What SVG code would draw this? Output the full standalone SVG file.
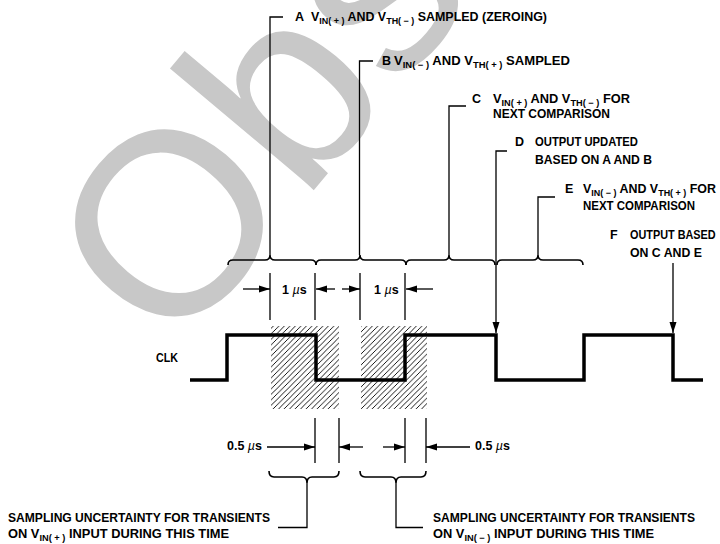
<svg xmlns="http://www.w3.org/2000/svg" width="720" height="544" viewBox="0 0 720 544">
<defs>
<style>
.t{font-family:"Liberation Sans",Arial,sans-serif;font-weight:bold;font-size:12.5px;fill:#000}
.sub{font-size:9px}
.mu{font-style:italic;font-weight:normal}
.ln{fill:none;stroke:#000;stroke-width:1.3}
.br{fill:none;stroke:#000;stroke-width:1.6}
.clk{fill:none;stroke:#000;stroke-width:3.5;stroke-linejoin:miter}
.wm{font-family:"Liberation Sans",Arial,sans-serif;font-size:260px;fill:#c8c8c8}
</style>
<marker id="ah" markerUnits="userSpaceOnUse" markerWidth="12" markerHeight="8" refX="11" refY="4" orient="auto">
<path d="M0,0.5 L11,4 L0,7.5 z" fill="#000"/>
</marker>
<pattern id="hatch" patternUnits="userSpaceOnUse" width="5.5" height="5.5">
<path d="M0,5.5 L5.5,0 M-1,1 L1,-1 M4.5,6.5 L6.5,4.5" stroke="#000" stroke-width="0.9"/>
</pattern>
</defs>
<rect width="720" height="544" fill="#fff"/>
<text class="wm" x="173" y="358" transform="rotate(-50 173 358)">Obs</text>

<g id="hatch-areas">
<rect x="271" y="326" width="68" height="83" fill="url(#hatch)"/>
<rect x="361" y="326" width="66" height="83" fill="url(#hatch)"/>
</g>

<g id="connectors">
<path class="ln" d="M283,17 H270 V255"/>
<path class="ln" d="M373,61 H359.5 V255"/>
<path class="ln" d="M466,106 H449 V255"/>
<path class="ln" d="M507,151 H496 V333" marker-end="url(#ah)"/>
<path class="ln" d="M555,197 H538 V255"/>
<path class="ln" d="M673,263 V333" marker-end="url(#ah)"/>
<path class="br" d="M228,265 Q228,260 233,260 L265,260 Q270,260 270,255 Q270,260 275,260 L311,260 Q316,260 316,265"/>
<path class="br" d="M316,265 Q316,260 321,260 L355,260 Q360,260 360,255 Q360,260 365,260 L401,260 Q406,260 406,265"/>
<path class="br" d="M406,265 Q406,260 411,260 L444,260 Q449,260 449,255 Q449,260 454,260 L490,260 Q495,260 495,265"/>
<path class="br" d="M497,265 Q497,260 502,260 L533,260 Q538,260 538,255 Q538,260 543,260 L578,260 Q583,260 583,265"/>
<path class="ln" d="M270,273 V320 M315,273 V320 M360,273 V320 M405,273 V320"/>
<path class="ln" d="M243,289 H270" marker-end="url(#ah)"/>
<path class="ln" d="M335,289 H316" marker-end="url(#ah)"/>
<path class="ln" d="M342,289 H360" marker-end="url(#ah)"/>
<path class="ln" d="M433,289 H406" marker-end="url(#ah)"/>
<path class="ln" d="M315,418 V463 M339,418 V463 M405,418 V463 M426,418 V463"/>
<path class="ln" d="M267,447 H315" marker-end="url(#ah)"/>
<path class="ln" d="M363,447 H339" marker-end="url(#ah)"/>
<path class="ln" d="M383,447 H405" marker-end="url(#ah)"/>
<path class="ln" d="M470,447 H426" marker-end="url(#ah)"/>
<path class="br" d="M269,471 Q269,477 274,477 L302,477 Q307,477 307,483 Q307,477 312,477 L334,477 Q339,477 339,471"/>
<path class="br" d="M360,471 Q360,477 365,477 L391,477 Q396,477 396,483 Q396,477 401,477 L421,477 Q426,477 426,471"/>
<path class="ln" d="M307,483 V527.5 H278"/>
<path class="ln" d="M396,483 V527.5 H423"/>
</g>

<g id="clk">
<path class="clk" d="M190,380 H227 V335 H316 V380 H405 V335 H496 V380 H584 V335 H673 V380 H703"/>
<text class="t" x="156" y="362" textLength="22" lengthAdjust="spacingAndGlyphs">CLK</text>
</g>

<g id="label-a">
<text class="t" x="295" y="21">A</text>
<text class="t" x="311" y="21" textLength="236" lengthAdjust="spacingAndGlyphs">V<tspan class="sub" dy="2.5">IN( + )</tspan><tspan dy="-2.5"> AND V</tspan><tspan class="sub" dy="2.5">TH( − )</tspan><tspan dy="-2.5"> SAMPLED (ZEROING)</tspan></text>
</g>
<g id="label-b">
<text class="t" x="382" y="65">B</text>
<text class="t" x="394" y="65" textLength="176" lengthAdjust="spacingAndGlyphs">V<tspan class="sub" dy="2.5">IN( − )</tspan><tspan dy="-2.5"> AND V</tspan><tspan class="sub" dy="2.5">TH( + )</tspan><tspan dy="-2.5"> SAMPLED</tspan></text>
</g>
<g id="label-c">
<text class="t" x="472" y="103">C</text>
<text class="t" x="493" y="103" textLength="137" lengthAdjust="spacingAndGlyphs">V<tspan class="sub" dy="2.5">IN( + )</tspan><tspan dy="-2.5"> AND V</tspan><tspan class="sub" dy="2.5">TH( − )</tspan><tspan dy="-2.5"> FOR</tspan></text>
<text class="t" x="493" y="118" textLength="117" lengthAdjust="spacingAndGlyphs">NEXT COMPARISON</text>
</g>
<g id="label-d">
<text class="t" x="515" y="146">D</text>
<text class="t" x="535" y="146" textLength="103" lengthAdjust="spacingAndGlyphs">OUTPUT UPDATED</text>
<text class="t" x="535" y="164" textLength="117" lengthAdjust="spacingAndGlyphs">BASED ON A AND B</text>
</g>
<g id="label-e">
<text class="t" x="565" y="193">E</text>
<text class="t" x="583" y="193" textLength="133" lengthAdjust="spacingAndGlyphs">V<tspan class="sub" dy="2.5">IN( − )</tspan><tspan dy="-2.5"> AND V</tspan><tspan class="sub" dy="2.5">TH( + )</tspan><tspan dy="-2.5"> FOR</tspan></text>
<text class="t" x="583" y="210" textLength="112" lengthAdjust="spacingAndGlyphs">NEXT COMPARISON</text>
</g>
<g id="label-f">
<text class="t" x="610" y="239">F</text>
<text class="t" transform="translate(630 239) scale(0.87 1)">OUTPUT BASED</text>
<text class="t" x="630" y="257" textLength="72" lengthAdjust="spacingAndGlyphs">ON C AND E</text>
</g>
<g id="dim-1us">
<text class="t" x="282" y="294">1 <tspan class="mu">µ</tspan>s</text>
<text class="t" x="374" y="294">1 <tspan class="mu">µ</tspan>s</text>
</g>
<g id="dim-05us">
<text class="t" x="227" y="450">0.5 <tspan class="mu">µ</tspan>s</text>
<text class="t" x="475" y="450">0.5 <tspan class="mu">µ</tspan>s</text>
</g>
<g id="note-left">
<text class="t" x="8" y="522" textLength="262" lengthAdjust="spacingAndGlyphs">SAMPLING UNCERTAINTY FOR TRANSIENTS</text>
<text class="t" x="8" y="538" textLength="221" lengthAdjust="spacingAndGlyphs">ON V<tspan class="sub" dy="2.5">IN( + )</tspan><tspan dy="-2.5"> INPUT DURING THIS TIME</tspan></text>
</g>
<g id="note-right">
<text class="t" x="433" y="522" textLength="262" lengthAdjust="spacingAndGlyphs">SAMPLING UNCERTAINTY FOR TRANSIENTS</text>
<text class="t" x="433" y="538" textLength="221" lengthAdjust="spacingAndGlyphs">ON V<tspan class="sub" dy="2.5">IN( − )</tspan><tspan dy="-2.5"> INPUT DURING THIS TIME</tspan></text>
</g>
</svg>
